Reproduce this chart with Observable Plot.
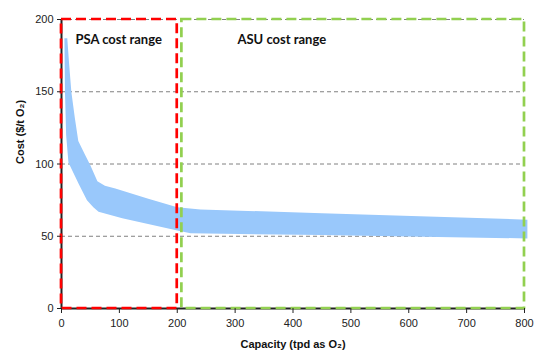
<!DOCTYPE html>
<html>
<head>
<meta charset="utf-8">
<script src="https://cdn.jsdelivr.net/npm/d3@7"></script>
<script src="https://cdn.jsdelivr.net/npm/@observablehq/plot@0.6"></script>
<style>
  html, body { margin: 0; padding: 0; background: #fff; }
  svg { display: block; }
</style>
</head>
<body>
<div id="chart"></div>
<script>
// Band: upper edge (tpd, $/t O2)
const upperX = [10, 13, 17, 23, 29, 40, 50, 62, 75, 93, 150, 200, 240, 450, 520, 805];
const upperY = [187, 170, 150, 132, 116, 107, 99, 88, 85, 83, 76, 70, 68.5, 66, 65, 61.5];
// Band: lower edge
const lowerX = [5, 6, 8, 12, 30, 44, 55, 64, 105, 200, 223, 450, 805];
const lowerY = [187, 150, 120, 101, 86, 75, 70, 67, 62.5, 54, 52, 50.8, 48.5];

// Cost ranges
const rangeNames = ["PSA cost range", "ASU cost range"];
const rangeStart = [0, 208];
const rangeEnd = [200, 800];
const rangeLabelX = [24, 304];
const rangeColors = ["#ff0000", "#92d050"];

const xTicks = [0, 100, 200, 300, 400, 500, 600, 700, 800];
const yTicks = [0, 50, 100, 150, 200];
const gridY = [50, 100, 150, 200];

const band = [
  ...upperX.map((x, i) => ({x, y: upperY[i]})),
  ...lowerX.map((x, i) => ({x, y: lowerY[i]})).reverse()
];
const ranges = rangeNames.map((name, i) => ({
  name, x1: rangeStart[i], x2: rangeEnd[i], lx: rangeLabelX[i], color: rangeColors[i]
}));

const chart = Plot.plot({
  width: 547,
  height: 364,
  marginLeft: 61,
  marginRight: 23,
  marginTop: 19,
  marginBottom: 56,
  style: {fontFamily: "'Liberation Sans', Arial, sans-serif", fontSize: "11px", background: "#fff", overflow: "visible"},
  x: {domain: [0, 800]},
  y: {domain: [0, 200]},
  marks: [
    Plot.ruleY(gridY, {stroke: "#808080", strokeWidth: 1, strokeDasharray: "4,3"}),
    Plot.line(band, {x: "x", y: "y", fill: "#99c8fb", stroke: "none", curve: "linear"}),
    Plot.ruleX([0], {stroke: "#222", strokeWidth: 2}),
    Plot.ruleY([0], {stroke: "#222", strokeWidth: 2}),
    Plot.rect(ranges, {x1: "x1", x2: "x2", y1: 0, y2: 200, fill: "none", stroke: "color", strokeWidth: 2.7, strokeDasharray: "10,5"}),
    Plot.text(ranges, {x: "lx", y: 186, text: "name", textAnchor: "start", fontFamily: "Lato, 'Open Sans', sans-serif", fontWeight: "bold", fontSize: 13, fill: "#111"}),
    Plot.axisX({ticks: xTicks, tickSize: 5, tickPadding: 6, label: null, stroke: "#222", fill: "#222", fontSize: 11}),
    Plot.axisY({ticks: yTicks, tickSize: 4, tickPadding: 4, label: null, stroke: "#222", fill: "#222", fontSize: 11}),
    Plot.text(["Capacity (tpd as O₂)"], {frameAnchor: "bottom", dy: 39, fontWeight: "bold", fontSize: 11, fill: "#111"}),
    Plot.text(["Cost ($/t O₂)"], {frameAnchor: "left", dx: -41, rotate: -90, fontWeight: "bold", fontSize: 11, fill: "#111"})
  ]
});
document.getElementById("chart").appendChild(chart);
</script>
</body>
</html>
